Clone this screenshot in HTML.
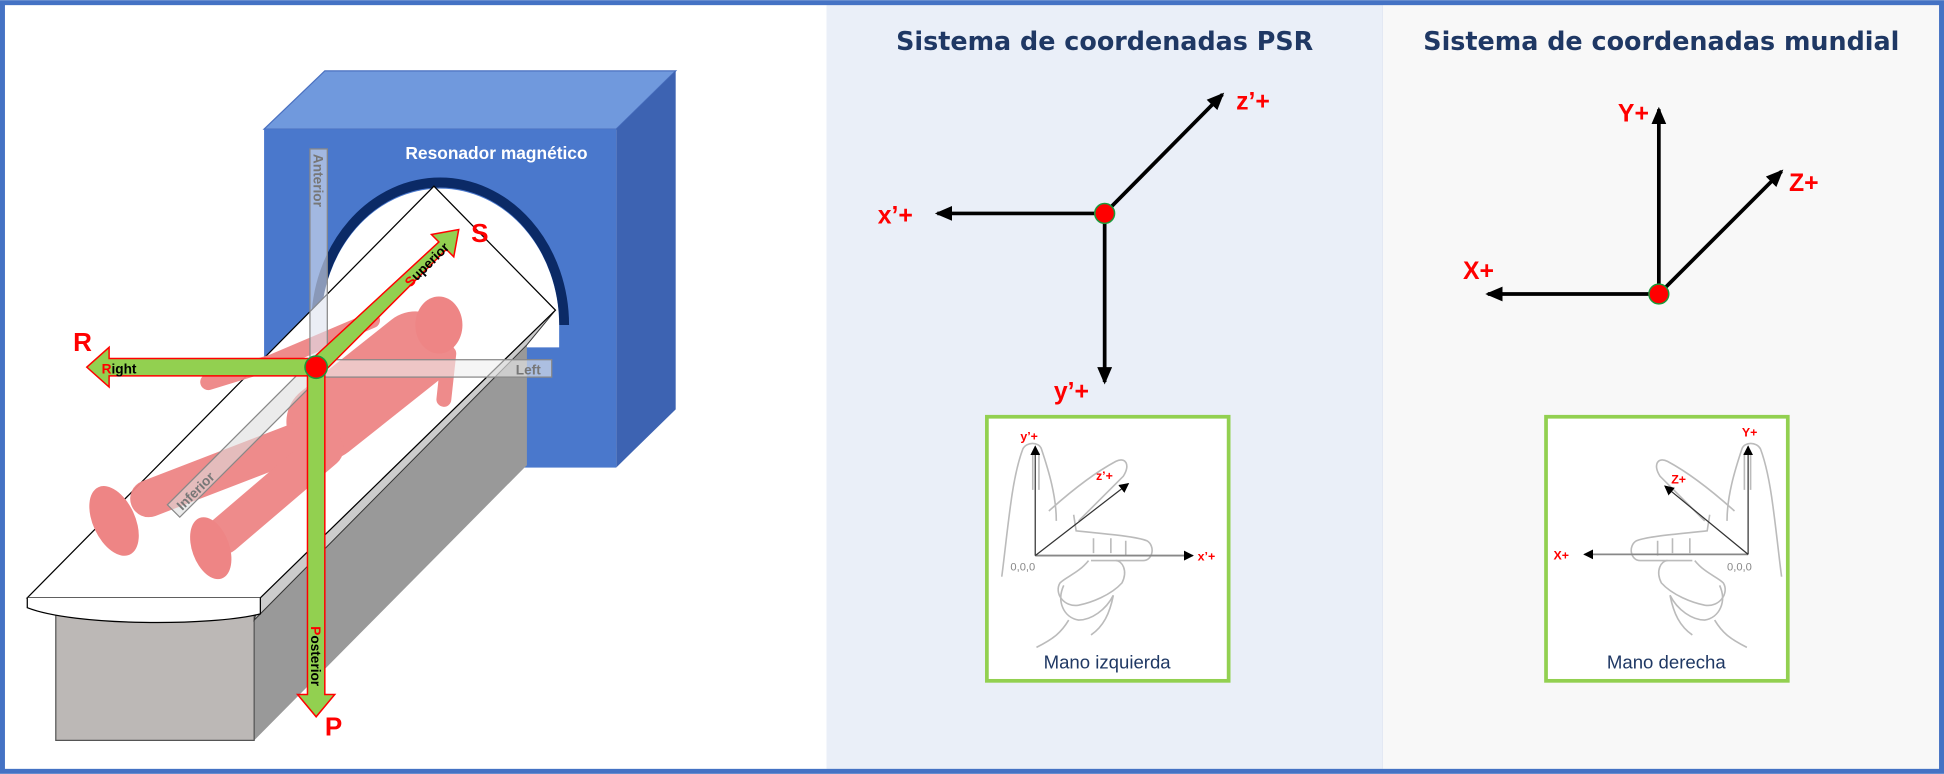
<!DOCTYPE html>
<html><head><meta charset="utf-8"><style>
html,body{margin:0;padding:0;background:#fff;}
svg{display:block;}
text{font-family:"Liberation Sans",sans-serif;}
.t{font-family:"DejaVu Sans",sans-serif;}
</style></head><body>
<svg width="1944" height="774" viewBox="0 0 1568 624" xmlns="http://www.w3.org/2000/svg">
<defs>
<marker id="ah" markerWidth="8" markerHeight="8" refX="7" refY="4" orient="auto" markerUnits="userSpaceOnUse"><path d="M0,0 L8,4 L0,8 Z" fill="#000"/></marker>
<marker id="ah2" markerWidth="14" markerHeight="12" refX="12" refY="6" orient="auto" markerUnits="userSpaceOnUse"><path d="M0,0 L14,6 L0,12 Z" fill="#000"/></marker>
<g id="hand" fill="none" stroke="#bbb" stroke-width="1.3">
 <path d="M815,408 C818,385 822,370 825,362 C828,356 838,356 840,362 C846,380 852,400 852,420"/>
 <path d="M833,365 L833,395 M838,365 L838,395"/>
 <path d="M846,412 C865,395 885,380 900,372 C908,368 912,375 906,384 C890,400 878,412 870,420"/>
 <path d="M866,415 L868,428 C885,430 915,432 925,436 C932,440 930,452 922,452 L880,452"/>
 <path d="M882,434 L882,446 M896,434 L896,446 M908,436 L908,448"/>
 <path d="M878,452 C870,462 860,465 855,470 C850,478 858,490 870,488 C880,486 896,480 905,470 C910,460 905,452 900,452"/>
 <path d="M858,472 C852,485 858,498 870,500 C880,500 892,492 898,480"/>
 <path d="M862,500 C856,510 850,515 836,522 M898,480 C895,495 890,505 880,512"/>
 <path d="M815,408 C812,430 810,450 808,465"/>
</g>
</defs>
<rect x="0" y="0" width="1568" height="624" fill="#4472c4"/>
<rect x="4" y="4" width="663" height="616" fill="#fff"/>
<rect x="667" y="4" width="448" height="616" fill="#eaeff8"/>
<rect x="1115" y="4" width="449" height="616" fill="#f8f8f8"/>

<!-- scanner -->
<polygon points="213,104 262,57 545,57 497,104" fill="#7099dd" stroke="#4a70c0"/>
<polygon points="497,104 545,57 545,330 497,377" fill="#3d63b2"/>
<rect x="213" y="104" width="284" height="273" fill="#4a78cc"/>
<path d="M255,262 A100,115 0 0 1 455,262" fill="none" stroke="#0b2a66" stroke-width="8"/>
<path d="M259,262 A96,110 0 0 1 451,262 L451,280 L259,280Z" fill="#fff"/>
<text x="327" y="128" fill="#fff" font-size="14" font-weight="bold">Resonador magnético</text>

<!-- table -->
<polygon points="205,495 425,278 425,375 205,597" fill="#999"/>
<polygon points="45,495 205,495 205,597 45,597" fill="#bcb8b6" stroke="#555"/>
<polygon points="210,482 448,250 425,278 205,500" fill="#ccc" stroke="#333" stroke-width="0.8"/>
<polygon points="22,482 350,150 448,250 210,482" fill="#fff" stroke="#000" stroke-width="1"/>
<path d="M22,482 L22,490 C60,505 170,505 210,495 L210,482" fill="#fff" stroke="#000"/>

<!-- body -->
<g stroke="#ee8585" fill="none" stroke-linecap="round" stroke-linejoin="round" opacity="0.95">
 <path d="M335,282 L262,340" stroke-width="62"/>
 <path d="M250,352 L120,402" stroke-width="30"/>
 <path d="M262,362 L180,432" stroke-width="30"/>
 <path d="M300,258 L220,292 L168,308" stroke-width="13"/>
 <path d="M362,285 L358,322" stroke-width="12"/>
</g>
<g fill="#ee8585">
 <ellipse cx="354" cy="262" rx="19" ry="23"/>
 <ellipse cx="92" cy="420" rx="17" ry="30" transform="rotate(-25 92 420)"/>
 <ellipse cx="170" cy="442" rx="15" ry="26" transform="rotate(-20 170 442)"/>
</g>

<!-- gray translucent axes -->
<rect x="250" y="120" width="14" height="176" fill="#dde3ee" fill-opacity="0.6" stroke="#888"/>
<text transform="translate(253,124) rotate(90)" fill="#777" font-size="11" font-weight="bold">Anterior</text>
<rect x="255" y="290" width="190" height="14" fill="#eee" fill-opacity="0.6" stroke="#888"/>
<text x="416" y="302" fill="#777" font-size="11" font-weight="bold">Left</text>
<polygon points="250,292 260,302 145,417 135,407" fill="#ddd" fill-opacity="0.6" stroke="#888"/>
<text transform="translate(147,412) rotate(-45)" fill="#777" font-size="11" font-weight="bold">Inferior</text>

<!-- green arrows -->
<polygon points="250,289 88,289 88,280 70,296 88,312 88,303 250,303" fill="#92d050" stroke="red" stroke-width="1.2"/>
<text x="82" y="301" font-size="11" font-weight="bold"><tspan fill="red">R</tspan>ight</text>
<polygon points="248,296 262,296 262,560 270,560 255,578 240,560 248,560" fill="#92d050" stroke="red" stroke-width="1.2"/>
<text transform="translate(251,505) rotate(90)" font-size="11" font-weight="bold"><tspan fill="red">P</tspan>osterior</text>
<polygon points="250,291 260,301 360,201 366,207 370,185 348,189 354,195" fill="#92d050" stroke="red" stroke-width="1.2"/>
<text transform="translate(331,232) rotate(-45)" font-size="11" font-weight="bold"><tspan fill="red">S</tspan>uperior</text>
<circle cx="255" cy="296" r="9" fill="red" stroke="#1a9a3a" stroke-width="1.2"/>
<text x="59" y="283" fill="red" font-size="21" font-weight="bold">R</text>
<text x="380" y="195" fill="red" font-size="21" font-weight="bold">S</text>
<text x="262" y="593" fill="red" font-size="21" font-weight="bold">P</text>

<!-- PSR -->
<text class="t" x="891" y="40" text-anchor="middle" fill="#1f3864" font-size="20.5" font-weight="bold">Sistema de coordenadas PSR</text>
<line x1="891" y1="172" x2="756" y2="172" stroke="#000" stroke-width="3" marker-end="url(#ah2)"/>
<line x1="891" y1="172" x2="891" y2="308" stroke="#000" stroke-width="3" marker-end="url(#ah2)"/>
<line x1="891" y1="172" x2="986" y2="76" stroke="#000" stroke-width="3" marker-end="url(#ah2)"/>
<circle cx="891" cy="172" r="8" fill="red" stroke="#1a9a3a" stroke-width="1.2"/>
<text x="708" y="180" fill="red" font-size="20" font-weight="bold">x’+</text>
<text x="850" y="322" fill="red" font-size="20" font-weight="bold">y’+</text>
<text x="997" y="88" fill="red" font-size="20" font-weight="bold">z’+</text>
<rect x="796" y="336" width="195" height="213" fill="#fff" stroke="#92d050" stroke-width="3"/>
<use href="#hand"/>
<line x1="835" y1="448" x2="835" y2="360" stroke="#333" stroke-width="1" marker-end="url(#ah)"/>
<line x1="835" y1="448" x2="962" y2="448" stroke="#888" stroke-width="1.5" marker-end="url(#ah)"/>
<line x1="835" y1="448" x2="910" y2="390" stroke="#333" stroke-width="1" marker-end="url(#ah)"/>
<text x="823" y="355" fill="red" font-size="10" font-weight="bold">y’+</text>
<text x="884" y="387" fill="red" font-size="10" font-weight="bold">z’+</text>
<text x="966" y="452" fill="red" font-size="10" font-weight="bold">x’+</text>
<text x="815" y="460" fill="#888" font-size="9">0,0,0</text>
<text x="893" y="539" text-anchor="middle" fill="#1f3864" font-size="15">Mano izquierda</text>

<!-- world -->
<text class="t" x="1340" y="40" text-anchor="middle" fill="#1f3864" font-size="20.5" font-weight="bold">Sistema de coordenadas mundial</text>
<line x1="1338" y1="237" x2="1200" y2="237" stroke="#000" stroke-width="3" marker-end="url(#ah2)"/>
<line x1="1338" y1="237" x2="1338" y2="88" stroke="#000" stroke-width="3" marker-end="url(#ah2)"/>
<line x1="1338" y1="237" x2="1437" y2="138" stroke="#000" stroke-width="3" marker-end="url(#ah2)"/>
<circle cx="1338" cy="237" r="8" fill="red" stroke="#1a9a3a" stroke-width="1.2"/>
<text x="1180" y="225" fill="red" font-size="20" font-weight="bold">X+</text>
<text x="1305" y="98" fill="red" font-size="20" font-weight="bold">Y+</text>
<text x="1443" y="154" fill="red" font-size="20" font-weight="bold">Z+</text>
<rect x="1247" y="336" width="195" height="213" fill="#fff" stroke="#92d050" stroke-width="3"/>
<use href="#hand" transform="translate(2245,0) scale(-1,1)"/>
<line x1="1410" y1="447" x2="1278" y2="447" stroke="#888" stroke-width="1.5" marker-end="url(#ah)"/>
<line x1="1410" y1="447" x2="1410" y2="360" stroke="#333" stroke-width="1" marker-end="url(#ah)"/>
<line x1="1410" y1="447" x2="1343" y2="392" stroke="#333" stroke-width="1" marker-end="url(#ah)"/>
<text x="1405" y="352" fill="red" font-size="10" font-weight="bold">Y+</text>
<text x="1348" y="390" fill="red" font-size="10" font-weight="bold">Z+</text>
<text x="1253" y="451" fill="red" font-size="10" font-weight="bold">X+</text>
<text x="1393" y="460" fill="#888" font-size="9">0,0,0</text>
<text x="1344" y="539" text-anchor="middle" fill="#1f3864" font-size="15">Mano derecha</text>
</svg>
</body></html>
